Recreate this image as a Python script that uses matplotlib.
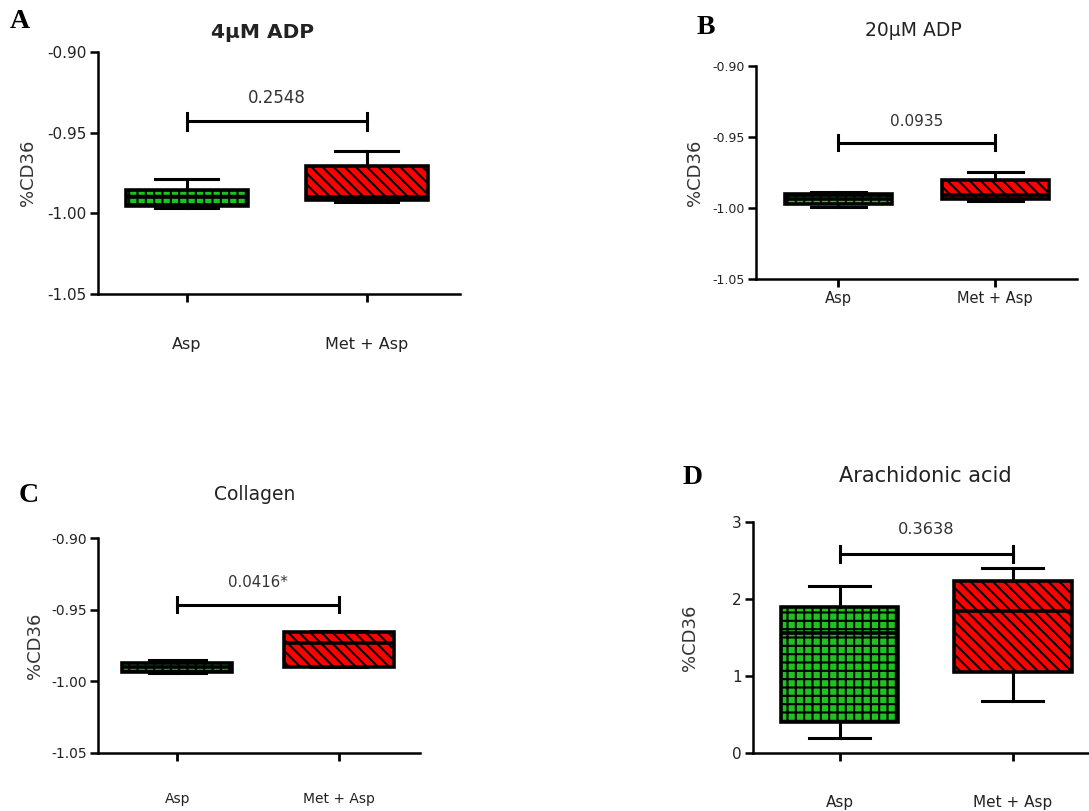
import matplotlib
matplotlib.use("Agg")
import matplotlib.pyplot as plt

plt.rcParams['font.family'] = ['DejaVu Sans']
plt.rcParams['hatch.linewidth'] = 1.5

W, H = 1089, 811

# ---- data ----
groups = ["Asp", "Met + Asp"]
titles = ["4\u03bcM ADP", "20\u03bcM ADP", "Collagen", "Arachidonic acid"]
letters = ["A", "B", "C", "D"]
pvalues = ["0.2548", "0.0935", "0.0416*", "0.3638"]

# (whislo, q1, med, q3, whishi) for Asp and Met + Asp
asp_stats = [
    [-0.9967, -0.9955, -0.9900, -0.9856, -0.9790],
    [-0.9993, -0.9970, -0.9935, -0.9900, -0.9887],
    [-0.9940, -0.9935, -0.9900, -0.9870, -0.9850],
    [0.20, 0.40, 1.56, 1.90, 2.17],
]
met_stats = [
    [-0.9930, -0.9918, -0.9900, -0.9707, -0.9613],
    [-0.9950, -0.9937, -0.9910, -0.9803, -0.9747],
    [-0.9900, -0.9900, -0.9733, -0.9656, -0.9649],
    [0.68, 1.05, 1.84, 2.23, 2.40],
]
bracket_y = [-0.9428, -0.9540, -0.9466, 2.58]
text_y = [-0.9287, -0.9394, -0.9310, 2.90]
ylims = [(-1.05, -0.90), (-1.05, -0.90), (-1.05, -0.90), (0, 3)]
yticks = [[-1.05, -1.00, -0.95, -0.90]] * 3 + [[0, 1, 2, 3]]
yticklabels = [["-1.05", "-1.00", "-0.95", "-0.90"]] * 3 + [["0", "1", "2", "3"]]

# ---- layout (pixels) ----
axes_px = [  # left, right, top, bottom
    (98, 460, 52, 294),
    (756, 1077, 66, 279),
    (98, 420, 538, 753),
    (753, 1089, 522, 753),
]
xlims = [(0.506, 2.517), (0.478, 2.52), (0.51, 2.50), (0.50, 2.44)]
label_pad = [25, 3, 22, 24]
xtick_size = [11.5, 10.5, 10, 11]
ytick_size = [11, 9, 10, 11]
pval_size = [12, 11, 10.8, 11.7]
title_pos = [(263, 32), (913, 30), (255, 494), (925, 476)]
title_size = [14.5, 13.5, 13.5, 15]
title_weight = ["bold", "normal", "normal", "normal"]
letter_pos = [(20, 21), (706, 27), (29, 495), (693, 478)]
ylabel_x = [28, 695, 35, 690]

fig = plt.figure(figsize=(W / 100, H / 100), dpi=100)

for i in range(4):
    l, r, t, b = axes_px[i]
    ax = fig.add_axes([l / W, 1 - b / H, (r - l) / W, (b - t) / H])
    stats = []
    for s, lab in zip([asp_stats[i], met_stats[i]], groups):
        stats.append(dict(whislo=s[0], q1=s[1], med=s[2], q3=s[3], whishi=s[4], label=lab))
    bp = ax.bxp(stats, positions=[1, 2], widths=0.68, patch_artist=True, showfliers=False,
                boxprops=dict(linewidth=2.6, edgecolor='black'),
                medianprops=dict(color='black', linewidth=2.6),
                whiskerprops=dict(color='black', linewidth=2.2),
                capprops=dict(color='black', linewidth=2.2),
                capwidths=0.35)
    bp['boxes'][0].set_facecolor('#1fc31f')
    bp['boxes'][0].set_hatch('++')
    bp['boxes'][1].set_facecolor('#ff0000')
    bp['boxes'][1].set_hatch('\\\\\\')
    ax.set_xlim(*xlims[i])
    ax.set_ylim(*ylims[i])
    ax.set_yticks(yticks[i])
    ax.set_yticklabels(yticklabels[i], fontsize=ytick_size[i], color='#222222')
    ax.set_xticks([1, 2])
    ax.set_xticklabels(groups, fontsize=xtick_size[i], color='#222222')
    ax.tick_params(axis='x', length=6, width=2, pad=label_pad[i])
    ax.tick_params(axis='y', length=6, width=1.8, pad=2)
    for sp in ['top', 'right']:
        ax.spines[sp].set_visible(False)
    for sp in ['left', 'bottom']:
        ax.spines[sp].set_linewidth(1.8)
    # significance bracket
    yb = bracket_y[i]
    rng = ylims[i][1] - ylims[i][0]
    ax.plot([1, 2], [yb, yb], color='black', lw=2.2, clip_on=False)
    ax.plot([1, 1], [yb - rng * 0.035, yb + rng * 0.035], color='black', lw=2.2, clip_on=False)
    ax.plot([2, 2], [yb - rng * 0.035, yb + rng * 0.035], color='black', lw=2.2, clip_on=False)
    ax.text(1.5, text_y[i], pvalues[i], ha='center', va='center', fontsize=pval_size[i], color='#333333')
    # titles etc.
    fig.text(title_pos[i][0] / W, 1 - title_pos[i][1] / H, titles[i], ha='center', va='center',
             fontsize=title_size[i], fontweight=title_weight[i], color='#222222')
    fig.text(letter_pos[i][0] / W, 1 - letter_pos[i][1] / H, letters[i], ha='center', va='center',
             fontsize=20, fontweight='bold', family='Liberation Serif')
    fig.text(ylabel_x[i] / W, 1 - ((t + b) / 2) / H, "%CD36", rotation=90, ha='center', va='center',
             fontsize=13, color='#333333')

fig.savefig("out.png", dpi=100)
